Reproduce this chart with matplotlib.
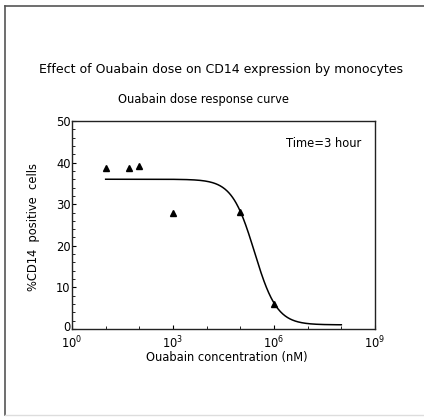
import numpy as np
import matplotlib
matplotlib.use("Agg")
import matplotlib.pyplot as plt
import matplotlib.transforms as mtransforms
from matplotlib.lines import Line2D
from matplotlib.ticker import FixedLocator, NullFormatter

# Data
conc_nM = [10, 50, 100, 1000, 1e5, 1e6]
pct_cd14 = [38.6, 38.8, 39.3, 28.0, 28.2, 6.0]

# Fitted 4-parameter logistic curve (parameters)
fit_top = 36.0
fit_bottom = 1.0
fit_log_ec50 = 5.42
fit_hill = 1.3
fit_range_log = [1.0, 8.0]

title = "Effect of Ouabain dose on CD14 expression by monocytes"
subtitle = "Ouabain dose response curve"
note = "Time=3 hour"
xlabel = "Ouabain concentration (nM)"
ylabel = "%CD14  positive  cells"
xtick_exp = [0, 3, 6, 9]
yticks = [0, 10, 20, 30, 40, 50]

W, H, DPI = 424, 418, 100
fig = plt.figure(figsize=(W / DPI, H / DPI), dpi=DPI)
fig.patch.set_facecolor("white")

def fx(px):
    return px / W

def fy(py):
    return 1 - py / H

# axes box: x 72..375, y 121..329 in pixels
ax = fig.add_axes([fx(72), fy(329), fx(375) - fx(72), fy(121) - fy(329)])
ax.set_xscale("log")
ax.set_xlim(1, 1e9)
ax.set_ylim(0, 50)

lx = np.linspace(fit_range_log[0], fit_range_log[1], 400)
curve = fit_bottom + (fit_top - fit_bottom) / (1 + 10 ** ((lx - fit_log_ec50) * fit_hill))
ax.plot(10 ** lx, curve, color="black", lw=1.1)
ax.plot(conc_nM, pct_cd14, linestyle="none", marker="^", color="black", markersize=5)

for s in ax.spines.values():
    s.set_linewidth(1.0)
    s.set_color("#222222")

fs = 8.3
ax.set_xticks([10.0 ** e for e in xtick_exp])
ax.set_xticklabels([f"$10^{{{e}}}$" for e in xtick_exp], fontsize=fs)
ax.xaxis.set_minor_locator(FixedLocator([10.0 ** e for e in range(1, 9)]))
ax.xaxis.set_minor_formatter(NullFormatter())
ax.set_yticks(yticks)
ax.set_yticklabels([str(v) for v in yticks], fontsize=fs)
ax.yaxis.set_minor_locator(FixedLocator(np.arange(0, 51, 2)))
ax.tick_params(axis="both", which="major", direction="in", length=3, width=0.8, pad=1)
ax.tick_params(axis="both", which="minor", direction="in", length=2, width=0.6)
ax.tick_params(axis="x", pad=4)

# lift the "0" y tick label slightly so it clears the 10^0 label
zero_lbl = ax.get_yticklabels()[0]
zero_lbl.set_transform(zero_lbl.get_transform() +
                       mtransforms.ScaledTranslation(0, 3 / DPI, fig.dpi_scale_trans))

ax.text(0.955, 0.925, note, transform=ax.transAxes, ha="right", va="top", fontsize=fs)

fig.text(fx(221), fy(69), title, ha="center", va="center", fontsize=9.0)
fig.text(fx(203), fy(99), subtitle, ha="center", va="center", fontsize=fs)
fig.text(fx(227), fy(357), xlabel, ha="center", va="center", fontsize=fs)
fig.text(fx(33), fy(227), ylabel, ha="center", va="center", rotation=90, fontsize=fs)

# page frame
fig.add_artist(Line2D([fx(5), fx(5)], [fy(6), fy(415)], color="#555555", lw=1.2))
fig.add_artist(Line2D([fx(5), fx(424)], [fy(6), fy(6)], color="#555555", lw=1.2))
fig.add_artist(Line2D([fx(5), fx(424)], [fy(415), fy(415)], color="#dddddd", lw=1.0))

fig.savefig("out.png", dpi=DPI, facecolor="white")
